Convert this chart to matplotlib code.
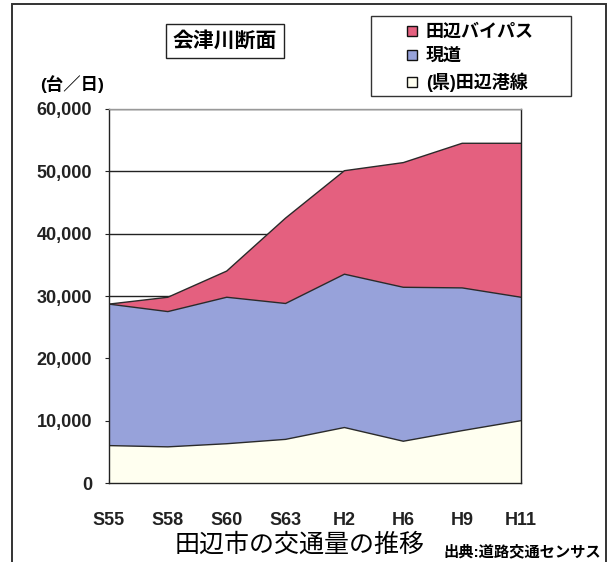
import matplotlib
matplotlib.use("Agg")
import matplotlib.pyplot as plt
from matplotlib.lines import Line2D
from matplotlib.patches import Rectangle

plt.rcParams['font.family'] = ['Liberation Sans', 'Noto Sans CJK JP']

# traffic counts (vehicles/day), 会津川断面
years = ['S55', 'S58', 'S60', 'S63', 'H2', 'H6', 'H9', 'H11']
kendo = [6000, 5800, 6300, 7000, 8900, 6700, 8400, 10000]       # (県)田辺港線
gendo = [22700, 21700, 23500, 21800, 24600, 24700, 22900, 19800]  # 現道
bypass = [0, 2300, 4200, 13700, 16600, 20000, 23200, 24700]       # 田辺バイパス
y_ticks = [0, 10000, 20000, 30000, 40000, 50000, 60000]

names = ['田辺バイパス', '現道', '(県)田辺港線']
colors = {'田辺バイパス': '#E4607F', '現道': '#97A2DA', '(県)田辺港線': '#FFFFF0'}

W, H = 614, 562
fig = plt.figure(figsize=(W / 100, H / 100), dpi=100)
ax = fig.add_axes([109 / W, 1 - 483 / H, (521 - 109) / W, (483 - 109) / H])

x = list(range(len(years)))
ax.stackplot(x, kendo, gendo, bypass,
             colors=[colors['(県)田辺港線'], colors['現道'], colors['田辺バイパス']],
             linewidth=0, zorder=2)

# dark edge along the top of each layer
cum1 = kendo
cum2 = [a + b for a, b in zip(kendo, gendo)]
cum3 = [a + b for a, b in zip(cum2, bypass)]
for c in (cum1, cum2, cum3):
    ax.plot(x, c, color='#2a2a2a', lw=1.0, zorder=3)

ax.set_xlim(0, len(years) - 1)
ax.set_ylim(0, 60000)
ax.set_yticks(y_ticks)
ax.set_yticklabels([f'{v:,}' for v in y_ticks], fontweight='bold')
ax.set_xticks(x)
ax.set_xticklabels(years, fontweight='bold')
ax.yaxis.grid(True, color='#222222', lw=1.0)
ax.set_axisbelow(True)
ax.tick_params(axis='y', direction='out', length=3, pad=9, labelsize=13, colors='#222222')
ax.tick_params(axis='x', direction='in', length=3, pad=21, labelsize=13, colors='#222222')
for s in ax.spines.values():
    s.set_color('#222222')
    s.set_linewidth(1.0)
    s.set_zorder(4)
ax.spines['top'].set_color('#999999')

# outer frame
fig.patches.append(Rectangle((12 / W, -0.02), (606 - 12) / W, 1.02 - 4 / H,
                             transform=fig.transFigure, fill=False,
                             edgecolor='#333333', lw=1.4))

# section name box
fig.text(225 / W, 1 - 41 / H, '会津川断面', fontsize=15, fontweight='bold',
         ha='center', va='center',
         bbox=dict(boxstyle='square,pad=0.35', fc='white', ec='#222222', lw=1.0))

# legend box
fig.patches.append(Rectangle((371 / W, 1 - 96 / H), (571 - 371) / W, 80 / H,
                             transform=fig.transFigure, fill=False,
                             edgecolor='#333333', lw=1.0))
handles = [Line2D([], [], marker='s', linestyle='none', markersize=7,
                  markerfacecolor=colors[n], markeredgecolor='#111111', markeredgewidth=1.0)
           for n in names]
fig.legend(handles, names, loc='upper left', bbox_to_anchor=(405 / W, 1 - 24 / H),
           frameon=False, borderpad=0, borderaxespad=0, handlelength=0.8,
           handletextpad=0.35, labelspacing=0.4, fontsize=13,
           prop={'weight': 'bold', 'size': 13})

fig.text(40 / W, 1 - 84 / H, '(台／日)', fontsize=12.5, fontweight='bold',
         ha='left', va='center')
fig.text(175 / W, 1 - 545 / H, '田辺市の交通量の推移', fontsize=18, ha='left', va='center')
fig.text(601 / W, 1 - 552 / H, '出典:道路交通センサス', fontsize=11, fontweight='bold',
         ha='right', va='center')

fig.savefig('out.png', dpi=100)
